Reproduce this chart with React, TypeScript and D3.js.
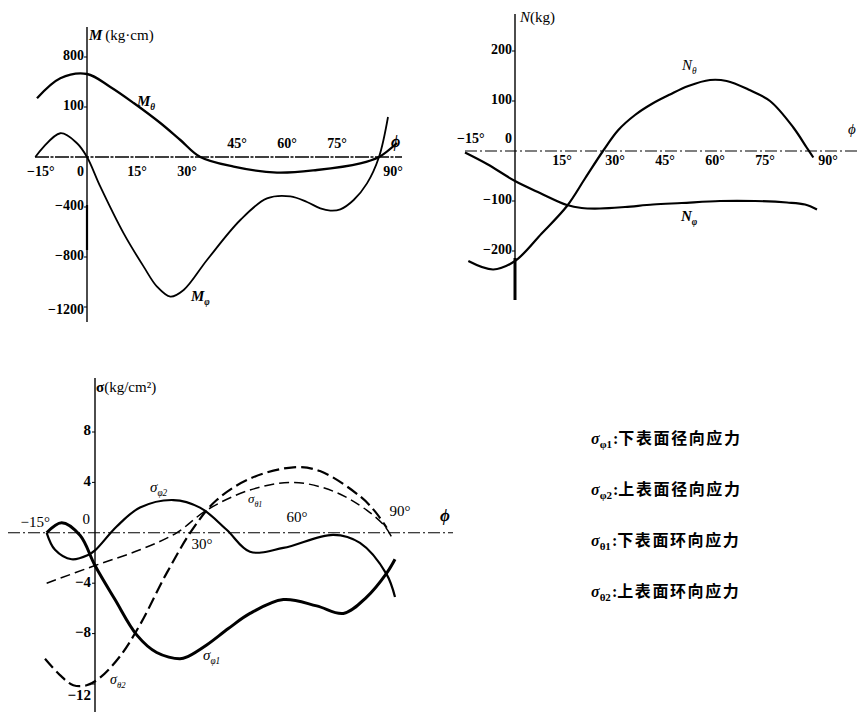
import React from 'react';
import * as d3 from 'd3';

const SERIF = '"Liberation Serif", "DejaVu Serif", serif';
const CJK = '"Noto Sans CJK SC", "Noto Sans CJK JP", sans-serif';

// ---------- M chart (top left)
const mThetaPhi = [-15, -8, 0, 7, 14, 22, 28, 34, 44, 57, 69, 82, 87.6, 93];
const mThetaVal = [470, 630, 664, 560, 432, 272, 136, 0, -77, -125, -104, -51, 0, 112];
const mPhiPhi = [-15.5, -8, -3, 0, 4, 11, 17, 21, 25, 29, 36, 46, 54, 61, 66, 70, 73, 76, 80, 84, 87.6, 90.3];
const mPhiVal = [0, 190, 110, 0, -237, -611, -877, -1037, -1117, -1064, -824, -504, -331, -315, -360, -411, -429, -419, -344, -211, 0, 320];
const mYTicks = [800, 400, -400, -800, -1200];
const mYLabels = ['800', '100', '−400', '−800', '−1200'];
const mXTicks = [-15, 0, 15, 30, 45, 60, 75, 90];
const mXLabels = ['−15°', '0', '15°', '30°', '45°', '60°', '75°', '90°'];
const mXAbove = [false, false, false, false, true, true, true, false];

// ---------- N chart (top right)
const nThetaPhi = [-14, -6.5, 0, 8, 15.6, 21, 26.4, 31, 36, 41, 46.5, 52, 58.5, 63.5, 70, 76.5, 83.5, 87.5, 89.5];
const nThetaVal = [-220, -237, -220, -165, -110, -55, 0, 42, 72, 94, 113, 130, 142, 140, 123, 100, 47, 7, -13];
const nPhiPhi = [-15, -8.4, 0, 7.5, 15.6, 20, 25.5, 33, 41.4, 50, 61.5, 72, 81.6, 87, 90.6];
const nPhiVal = [-3, -26, -60, -84, -108, -114, -115, -112, -107, -104, -100, -100, -103, -107, -117];
const nYTicks = [200, 100, -100, -200];
const nYLabels = ['200', '100', '−100', '−200'];
const nXTicks = [-15, 0, 15, 30, 45, 60, 75, 90];
const nXLabels = ['−15°', '0', '15°', '30°', '45°', '60°', '75°', '90°'];
const nXAbove = [true, true, false, false, false, false, false, false];

// ---------- sigma chart (bottom)
const sPhi1Phi = [-14.5, -10, -4.5, 0, 6, 12.5, 18.5, 25.5, 28, 33.5, 40, 46.5, 56.5, 66.5, 74.5, 81.5, 87.5, 90];
const sPhi1Val = [0, 0.8, -0.2, -2.6, -5.3, -8.1, -9.5, -10.0, -9.8, -8.9, -7.6, -6.4, -5.3, -5.8, -6.4, -5.1, -3.2, -2.1];
const sPhi2Phi = [-14.5, -12, -7, -2, 0, 6.5, 13.5, 23.5, 31.5, 39.5, 46.5, 56.5, 71.5, 79.5, 87.5, 90];
const sPhi2Val = [0, -1.35, -2.1, -1.75, -1.4, 0.5, 2.0, 2.6, 2.0, 0.24, -1.5, -1.2, -0.16, -0.8, -3.3, -5.1];
const sTheta1Phi = [-14.5, 0, 13.5, 24.5, 33.5, 46.5, 59.5, 71.5, 81.5, 87, 89.5];
const sTheta1Val = [-4.0, -2.6, -1.35, 0, 1.8, 3.4, 4.0, 3.3, 1.8, 0.5, -0.6];
const sTheta2Phi = [-15, -10.5, -6.5, -2.5, 1.5, 7.5, 13.5, 21.5, 29.5, 36.5, 46.5, 59.5, 67.5, 79.5, 84, 87.5];
const sTheta2Val = [-10, -11.3, -12.1, -12.1, -11.5, -9.8, -7.3, -3.2, 0.37, 2.6, 4.3, 5.2, 4.9, 2.9, 1.7, 0.4];
const sYTicks = [8, 4, -4, -8, -12];
const sYLabels = ['8', '4', '−4', '−8', '−12'];
const sXTicks = [-15, 0, 30, 60, 90];
const sXLabels = ['−15°', '0', '30°', '60°', '90°'];
const sXAbove = [true, true, false, true, true];

// ---------- legend
const legendSub = ['φ1', 'φ2', 'θ1', 'θ2'];
const legendText = ['下表面径向应力', '上表面径向应力', '下表面环向应力', '上表面环向应力'];

const curve = d3.curveCatmullRom.alpha(0.5);
function pathOf(xs: number[], ys: number[], sx: any, sy: any) {
  return d3.line<number>()
    .x((_, i) => sx(xs[i]))
    .y((_, i) => sy(ys[i]))
    .curve(curve)(xs) || '';
}

function Sym({ x, y, main, sub, size = 15, weight = 'bold' }: any) {
  return (
    <text x={x} y={y} fontFamily={SERIF} fontSize={size} fontStyle="italic" fontWeight={weight}>
      {main}
      <tspan fontSize={size * 0.62} dy={size * 0.28}>{sub}</tspan>
    </text>
  );
}

export default function App() {
  const mx = d3.scaleLinear().domain([-15, 90]).range([37, 387]);
  const my = d3.scaleLinear().domain([-1200, 800]).range([307, 57]);
  const nx = d3.scaleLinear().domain([-15, 90]).range([465, 815]);
  const ny = d3.scaleLinear().domain([-200, 200]).range([251, 51]);
  const sx = d3.scaleLinear().domain([-15, 90]).range([45, 395]);
  const sy = d3.scaleLinear().domain([-12, 8]).range([684, 432]);

  return (
    <svg width={859} height={712} style={{ position: 'absolute', left: 0, top: 0, background: '#fff' }}>
      <rect width={859} height={712} fill="#fff" />

      {/* ================= M chart ================= */}
      <g>
        <line x1={35} x2={402} y1={my(0)} y2={my(0)} stroke="#000" strokeWidth={1.3} strokeDasharray="14 1.5 3 1.5" />
        <line x1={mx(0)} x2={mx(0)} y1={27} y2={322} stroke="#000" strokeWidth={1.4} />
        <line x1={mx(0)} x2={mx(0)} y1={205} y2={250} stroke="#000" strokeWidth={2.2} />
        {mYTicks.map((v, i) => (
          <g key={i}>
            <line x1={mx(0) - 3} x2={mx(0)} y1={my(v)} y2={my(v)} stroke="#000" strokeWidth={1} />
            <text x={mx(0) - 3} y={my(v) + (v === -1200 ? 4 : 0)} textAnchor="end" dominantBaseline="middle"
              fontFamily={SERIF} fontSize={14} fontWeight="bold">{mYLabels[i]}</text>
          </g>
        ))}
        {mXTicks.map((v, i) => {
          let x = mx(v);
          let anchor: any = 'middle';
          if (v === -15) { x = mx(v) - 10; anchor = 'start'; }
          if (v === 0) { x = mx(0) - 3; anchor = 'end'; }
          if (v === 90) { x = mx(v) + 6; }
          return (
            <text key={i} x={x} y={mXAbove[i] ? my(0) - 9 : my(0) + 19} textAnchor={anchor}
              fontFamily={SERIF} fontSize={14} fontWeight="bold">{mXLabels[i]}</text>
          );
        })}
        <text x={391} y={147} fontFamily={SERIF} fontSize={16} fontStyle="italic" fontWeight="bold">ϕ</text>
        <text x={89} y={40} fontFamily={SERIF} fontSize={15}>
          <tspan fontStyle="italic" fontWeight="bold">M</tspan>
          <tspan dx={3}>(kg·cm)</tspan>
        </text>
        <path d={pathOf(mThetaPhi, mThetaVal, mx, my)} fill="none" stroke="#000" strokeWidth={2.3} />
        <path d={pathOf(mPhiPhi, mPhiVal, mx, my)} fill="none" stroke="#000" strokeWidth={1.8} />
        <Sym x={137} y={106} main="M" sub="θ" size={15} />
        <Sym x={191} y={301} main="M" sub="φ" size={15} />
      </g>

      {/* ================= N chart ================= */}
      <g>
        <line x1={465} x2={857} y1={ny(0)} y2={ny(0)} stroke="#000" strokeWidth={1.1} strokeDasharray="12 3 2 3" />
        <line x1={nx(0)} x2={nx(0)} y1={14} y2={300} stroke="#000" strokeWidth={1.4} />
        <line x1={nx(0)} x2={nx(0)} y1={258} y2={300} stroke="#000" strokeWidth={3} />
        {nYTicks.map((v, i) => (
          <g key={i}>
            <line x1={nx(0) - 3} x2={nx(0)} y1={ny(v)} y2={ny(v)} stroke="#000" strokeWidth={1} />
            <text x={nx(0) - 3} y={ny(v)} textAnchor="end" dominantBaseline="middle"
              fontFamily={SERIF} fontSize={14} fontWeight="bold">{nYLabels[i]}</text>
          </g>
        ))}
        {nXTicks.map((v, i) => {
          let x = nx(v);
          let anchor: any = 'middle';
          if (v === -15) { x = nx(v) - 8; anchor = 'start'; }
          if (v === 0) { x = nx(0) - 3; anchor = 'end'; }
          if (v === 90) { x = nx(v) + 13; }
          if (v === 15) { x = nx(v) - 3; }
          return (
            <text key={i} x={x} y={nXAbove[i] ? ny(0) - 8 : ny(0) + 14} textAnchor={anchor}
              fontFamily={SERIF} fontSize={14} fontWeight="bold">{nXLabels[i]}</text>
          );
        })}
        <text x={848} y={134} fontFamily={SERIF} fontSize={15} fontStyle="italic">ϕ</text>
        <text x={520} y={22} fontFamily={SERIF} fontSize={15}>
          <tspan fontStyle="italic">N</tspan>
          <tspan>(kg)</tspan>
        </text>
        <path d={pathOf(nThetaPhi, nThetaVal, nx, ny)} fill="none" stroke="#000" strokeWidth={2.2} />
        <path d={pathOf(nPhiPhi, nPhiVal, nx, ny)} fill="none" stroke="#000" strokeWidth={2.2} />
        <Sym x={682} y={70} main="N" sub="θ" size={15} weight="normal" />
        <Sym x={681} y={221} main="N" sub="φ" size={15} />
      </g>

      {/* ================= sigma chart ================= */}
      <g>
        <line x1={8} x2={453} y1={sy(0)} y2={sy(0)} stroke="#000" strokeWidth={1.1} strokeDasharray="12 3 2 3" />
        <line x1={sx(0)} x2={sx(0)} y1={378} y2={712} stroke="#000" strokeWidth={1.4} />
        {sYTicks.map((v, i) => (
          <g key={i}>
            <line x1={sx(0) - 3} x2={sx(0)} y1={sy(v)} y2={sy(v)} stroke="#000" strokeWidth={1} />
            <text x={sx(0) - 4} y={sy(v) + (v === -12 ? 13 : 0)} textAnchor="end" dominantBaseline="middle"
              fontFamily={SERIF} fontSize={15} fontWeight="bold">{sYLabels[i]}</text>
          </g>
        ))}
        {sXTicks.map((v, i) => {
          let x = sx(v);
          let anchor: any = 'middle';
          let y = sXAbove[i] ? sy(0) - 6 : sy(0) + 16;
          if (v === -15) { x = sx(v) + 5; anchor = 'end'; }
          if (v === 0) { x = sx(0) - 5; anchor = 'end'; y = sy(0) - 9; }
          if (v === 30) { x = sx(v) + 7; }
          if (v === 60) { x = sx(v) + 2; y = sy(0) - 11; }
          if (v === 90) { x = sx(v) + 5; y = sy(0) - 17; }
          return (
            <text key={i} x={x} y={y} textAnchor={anchor}
              fontFamily={SERIF} fontSize={15}>{sXLabels[i]}</text>
          );
        })}
        <text x={440} y={521} fontFamily={SERIF} fontSize={17} fontStyle="italic" fontWeight="bold">ϕ</text>
        <text x={96} y={392} fontFamily={SERIF} fontSize={15}>
          <tspan fontWeight="bold">σ</tspan>
          <tspan>(kg/cm²)</tspan>
        </text>
        <path d={pathOf(sTheta2Phi, sTheta2Val, sx, sy)} fill="none" stroke="#000" strokeWidth={2.2} strokeDasharray="12 5" />
        <path d={pathOf(sTheta1Phi, sTheta1Val, sx, sy)} fill="none" stroke="#000" strokeWidth={1.5} strokeDasharray="10 5" />
        <path d={pathOf(sPhi2Phi, sPhi2Val, sx, sy)} fill="none" stroke="#000" strokeWidth={2.2} />
        <path d={pathOf(sPhi1Phi, sPhi1Val, sx, sy)} fill="none" stroke="#000" strokeWidth={3} />
        <Sym x={150} y={492} main="σ" sub="φ2" size={15} weight="normal" />
        <Sym x={248} y={503} main="σ" sub="θ1" size={13} weight="normal" />
        <Sym x={203} y={660} main="σ" sub="φ1" size={15} weight="normal" />
        <Sym x={110} y={684} main="σ" sub="θ2" size={14} weight="normal" />
      </g>

      {/* ================= legend ================= */}
      {legendSub.map((s, i) => (
        <g key={i}>
          <text x={591} y={444 + i * 51} fontFamily={SERIF} fontSize={16} fontWeight="bold">
            <tspan fontStyle="italic">σ</tspan>
            <tspan fontSize={11} dy={4}>{s}</tspan>
            <tspan dy={-4} dx={1}>:</tspan>
            <tspan fontFamily={CJK} fontSize={16} letterSpacing={1.6}>{legendText[i]}</tspan>
          </text>
        </g>
      ))}
    </svg>
  );
}
